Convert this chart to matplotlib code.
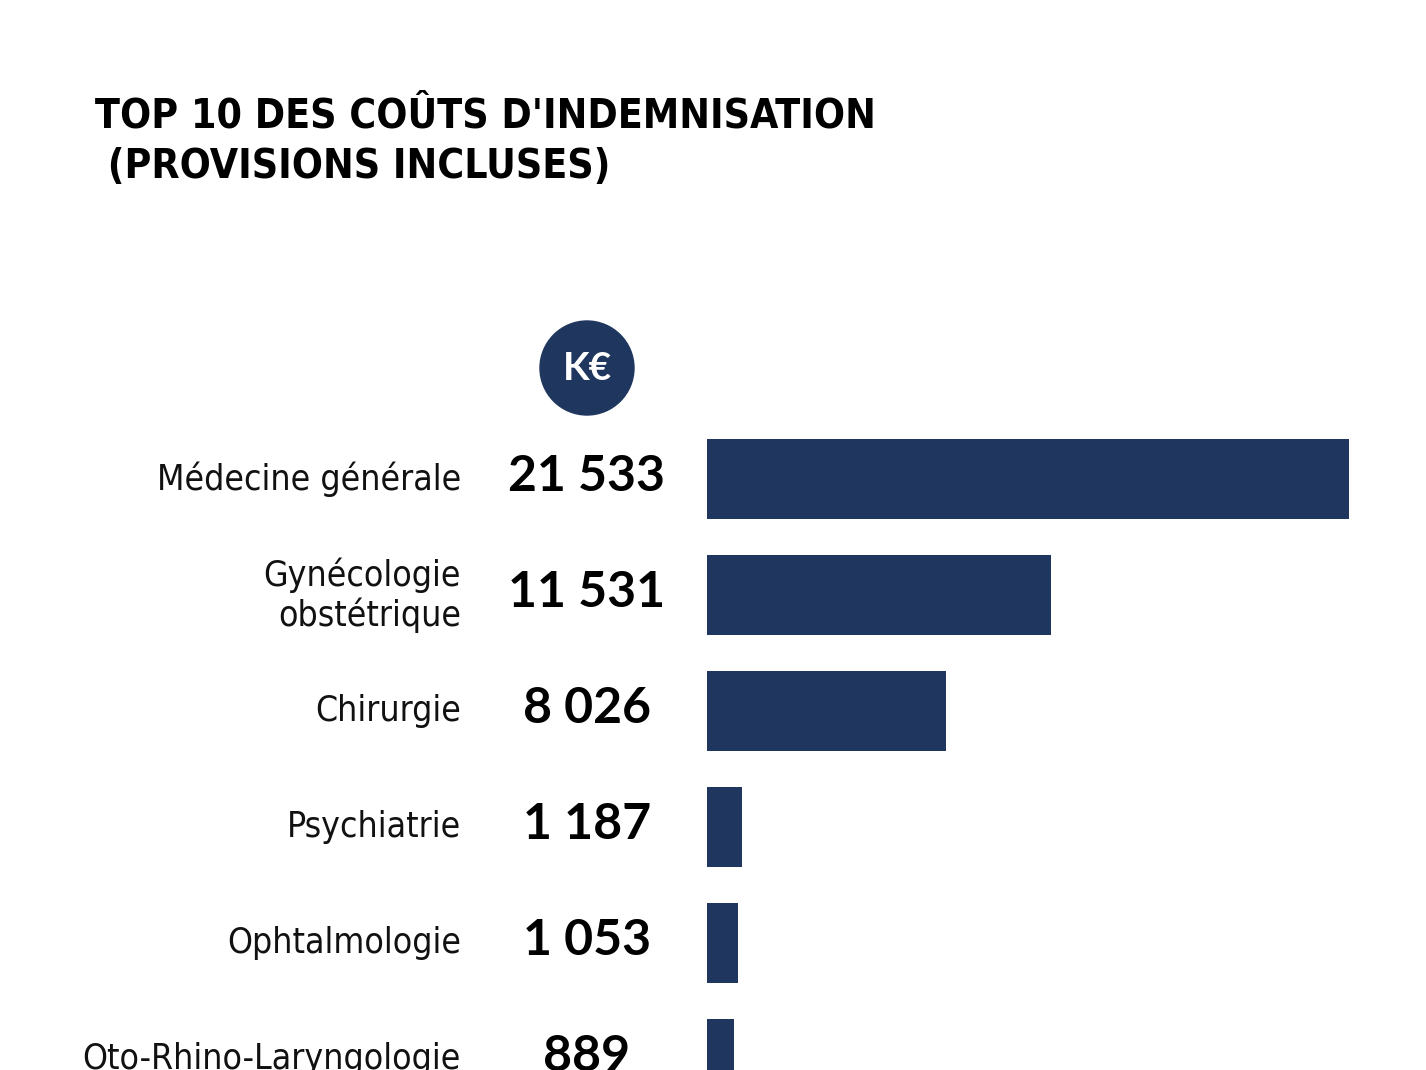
import matplotlib.pyplot as plt
from matplotlib.patches import Ellipse

# ---------------------------------
# Data
# ---------------------------------

categories = ["Médecine générale", "Gynécologie\nobstétrique", "Chirurgie",
              "Psychiatrie", "Ophtalmologie", "Oto-Rhino-Laryngologie"]
values = [21533, 11531, 8026, 1187, 1053, 889]
value_labels = ["21 533", "11 531", "8 026", "1 187", "1 053", "889"]

navy = "#1f365e"
W, H = 1426, 1070
cond = ["DejaVu Sans"]

fig = plt.figure(figsize=(W / 100, H / 100), dpi=100)
fig.patch.set_facecolor("white")

# bar axes: x pixel 707 -> 1349, y pixel 420 -> 1070
ax = fig.add_axes([707 / W, 0, 642 / W, (H - 420) / H])
pos = list(range(len(values)))
ax.barh(pos, values, height=80 / 116, color=navy)
ax.set_xlim(0, max(values))
ax.set_ylim((1070 - 479) / 116, -(479 - 420) / 116)
ax.axis("off")

# labels and values placed in the axes' y coordinates
trans = ax.get_yaxis_transform()
for i, (cat, lab) in enumerate(zip(categories, value_labels)):
    ax.text((461 - 707) / 642, i, cat, transform=trans, ha="right", va="center",
            fontsize=25.5, family=cond, fontstretch="condensed", color="#111111",
            linespacing=1.15)
    ax.text((587 - 707) / 642, i - 0.02, lab, transform=trans, ha="center", va="center",
            fontsize=36, family="Lato", fontweight="bold", color="black")

# K€ badge
fig.patches.append(Ellipse((587 / W, 1 - 368 / H), 94 / W, 94 / H, color=navy,
                           transform=fig.transFigure, figure=fig))
fig.text(587 / W, 1 - 369 / H, "K€", ha="center", va="center", color="white",
         fontsize=28, family="Lato", fontweight="bold")

# ---------------------------------
# Title
# ---------------------------------
fig.text(95 / W, 1 - 127 / H, "TOP 10 DES COÛTS D'INDEMNISATION",
         ha="left", va="baseline", fontsize=29.3, family=cond,
         fontstretch="condensed", fontweight="bold", color="black")
fig.text(95 / W, 1 - 178 / H, " (PROVISIONS INCLUSES)",
         ha="left", va="baseline", fontsize=29.3, family=cond,
         fontstretch="condensed", fontweight="bold", color="black")

fig.savefig("out.png", dpi=100)
